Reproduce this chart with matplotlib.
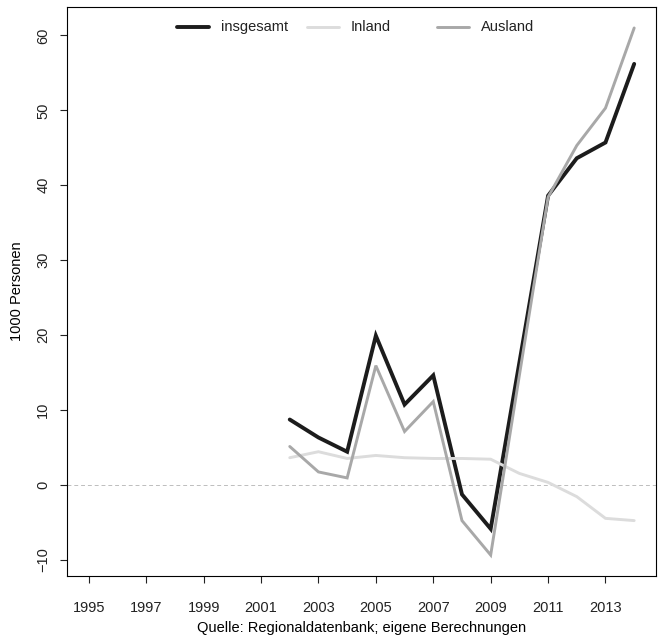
import matplotlib
matplotlib.use("Agg")
import matplotlib.pyplot as plt
import numpy as np

font_size = 10.5
params = {
	"font.size": font_size,
	"font.family": ["Liberation Sans", "DejaVu Sans"],
	"axes.linewidth": 0.8,
}
matplotlib.rcParams.update(params)

## data (1000 Personen), 1995-2001 without values
years = np.arange(1995, 2015)
insgesamt = [np.nan] * 7 + [8.7, 6.3, 4.4, 19.9, 10.7, 14.6, -1.3, -5.9, 16.3, 38.6, 43.6, 45.7, 56.2]
inland = [np.nan] * 7 + [3.6, 4.4, 3.5, 3.9, 3.6, 3.5, 3.5, 3.4, 1.5, 0.3, -1.6, -4.5, -4.8]
ausland = [np.nan] * 7 + [5.1, 1.7, 0.9, 15.9, 7.1, 11.1, -4.8, -9.4, 14.6, 38.4, 45.3, 50.3, 61.0]

x_ticks = np.arange(1995, 2014, 2)
y_ticks = np.arange(-10, 61, 10)

series = [
	("insgesamt", insgesamt, "#1c1c1c", 2.8),
	("Inland", inland, "#dcdcdc", 2.1),
	("Ausland", ausland, "#a8a8a8", 2.1),
]

fig = plt.figure(figsize=(6.6, 6.35), dpi=100)
ax = fig.add_axes([67 / 660, 1 - 576 / 635, 589 / 660, 569 / 635])

ax.axhline(0, color="#bdbdbd", linestyle=(0, (4, 3)), linewidth=0.7)

for name, values, colour, lw in series:
	ax.plot(years, values, color=colour, linewidth=lw, solid_capstyle="round", solid_joinstyle="miter")

ax.set_xlim(1994.24, 2014.76)
ax.set_ylim(-12.2, 63.8)

ax.set_xticks(x_ticks)
ax.set_yticks(y_ticks)
ax.set_yticklabels([str(v).replace("-", "\u2212") for v in y_ticks], rotation=90, va="center")
ax.tick_params(axis="both", direction="out", length=5, width=0.8, colors="#222222")
ax.tick_params(axis="x", pad=13)
ax.tick_params(axis="y", pad=7)

ax.set_xlabel("Quelle: Regionaldatenbank; eigene Berechnungen", labelpad=4)
ax.set_ylabel("1000 Personen", labelpad=9)

## legend drawn R-style: equal column widths, no frame
col_w = 130 / 589
x_start = (177 - 67) / 589
handle_len = 32 / 589
text_off = 44 / 589
y_leg = 1 - 20 / 569
for i, (name, values, colour, lw) in enumerate(series):
	x0 = x_start + i * col_w
	ax.plot([x0, x0 + handle_len], [y_leg, y_leg], transform=ax.transAxes,
		color=colour, linewidth=lw, solid_capstyle="round")
	ax.text(x0 + text_off, y_leg, name, transform=ax.transAxes, va="center", ha="left",
		color="#222222")

plt.savefig("out.png", dpi=100)
plt.close()
